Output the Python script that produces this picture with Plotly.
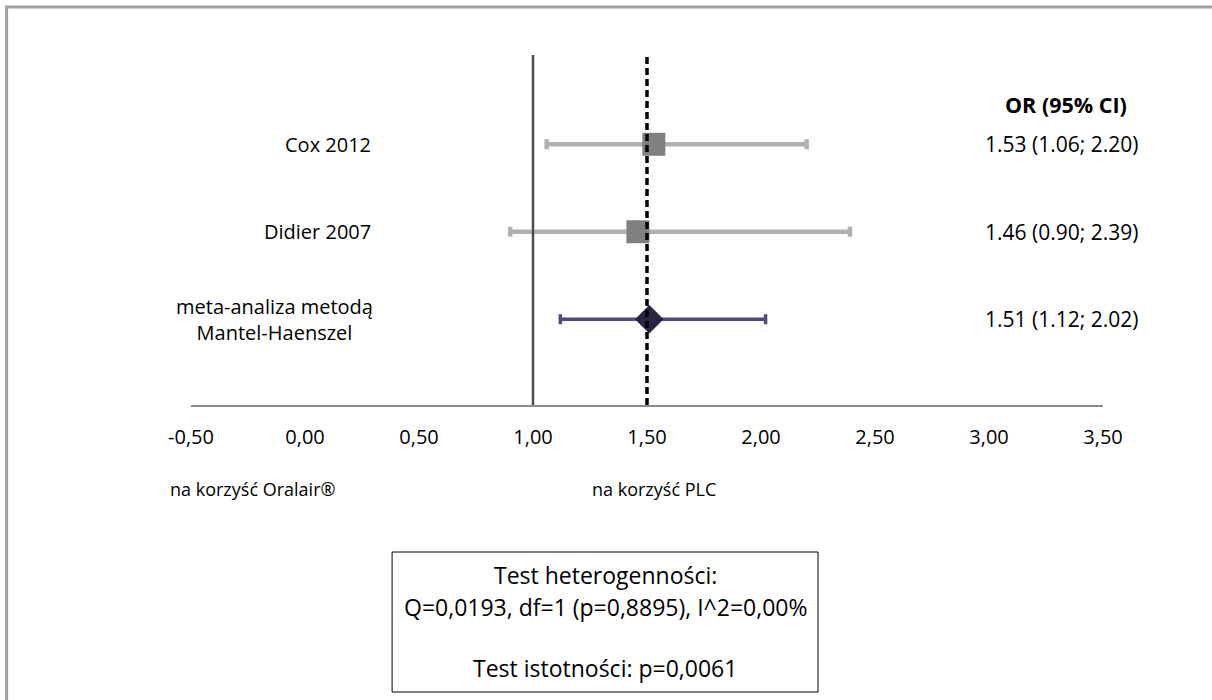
import plotly.graph_objects as go

# ---- data ----
studies = ["Cox 2012", "Didier 2007"]
study_or = [1.53, 1.46]
study_lo = [1.06, 0.90]
study_hi = [2.20, 2.39]
study_rows = [3, 2]

pooled_label = "meta-analiza metodą<br>Mantel-Haenszel"
pooled_or = [1.51]
pooled_lo = [1.12]
pooled_hi = [2.02]
pooled_rows = [1]

or_texts = ["1.53 (1.06; 2.20)", "1.46 (0.90; 2.39)", "1.51 (1.12; 2.02)"]
or_rows = [3, 2, 1]

tick_vals = [-0.5, 0.0, 0.5, 1.0, 1.5, 2.0, 2.5, 3.0, 3.5]
tick_text = ["-0,50", "0,00", "0,50", "1,00", "1,50", "2,00", "2,50", "3,00", "3,50"]

null_line = 1.0
pooled_line = 1.5

FONT = "Open Sans"
FS = 20

fig = go.Figure()

# study estimates with CI
fig.add_trace(go.Scatter(
    x=study_or, y=study_rows, mode="markers",
    marker=dict(symbol="square", size=23, color="#808080"),
    error_x=dict(type="data", symmetric=False,
                 array=[h - o for h, o in zip(study_hi, study_or)],
                 arrayminus=[o - l for o, l in zip(study_or, study_lo)],
                 color="#b0b0b0", thickness=4.5, width=5),
    showlegend=False, hoverinfo="skip"))

# pooled estimate
fig.add_trace(go.Scatter(
    x=pooled_or, y=pooled_rows, mode="markers",
    marker=dict(symbol="diamond", size=22, color="#2b2540"),
    error_x=dict(type="data", symmetric=False,
                 array=[h - o for h, o in zip(pooled_hi, pooled_or)],
                 arrayminus=[o - l for o, l in zip(pooled_or, pooled_lo)],
                 color="#54497a", thickness=3.5, width=5),
    showlegend=False, hoverinfo="skip"))

shapes = []
# null-effect line and pooled dashed line
shapes.append(dict(type="line", xref="x", yref="paper", x0=null_line, x1=null_line,
                   y0=0, y1=1, line=dict(color="#4d4d4d", width=2.5), layer="above"))
shapes.append(dict(type="line", xref="x", yref="paper", x0=pooled_line, x1=pooled_line,
                   y0=0, y1=1, line=dict(color="#000000", width=3.5, dash="7px,4px"),
                   layer="above"))
# heterogeneity box
shapes.append(dict(type="rect", xref="x", yref="paper", x0=0.382, x1=2.25,
                   y0=-0.82, y1=-0.42, line=dict(color="#000000", width=1),
                   fillcolor="rgba(0,0,0,0)"))
# outer frame
shapes.append(dict(type="rect", xref="paper", yref="paper", x0=-0.2022, x1=1.13,
                   y0=-0.88, y1=1.137, line=dict(color="#a0a0a0", width=3),
                   fillcolor="rgba(0,0,0,0)"))

annotations = []
for name, r in zip(studies, study_rows):
    annotations.append(dict(text=name, x=0.30, y=r, xref="x", yref="y",
                            xanchor="right", yanchor="middle", showarrow=False))
annotations.append(dict(text=pooled_label, x=-0.134, y=pooled_rows[0], xref="x", yref="y",
                        xanchor="center", yanchor="middle", showarrow=False, align="center"))
annotations.append(dict(text="<b>OR (95% CI)</b>", x=3.338, y=3.45, xref="x", yref="y",
                        xanchor="center", yanchor="middle", showarrow=False,
                        font=dict(size=21.5)))
for t, r in zip(or_texts, or_rows):
    annotations.append(dict(text=t, x=2.974, y=r, xref="x", yref="y",
                            xanchor="left", yanchor="middle", showarrow=False,
                            font=dict(size=21)))
annotations.append(dict(text="na korzyść Oralair®", x=-0.0252, y=-0.24,
                        xref="paper", yref="paper",
                        xanchor="left", yanchor="middle", showarrow=False,
                        font=dict(size=18)))
annotations.append(dict(text="na korzyść PLC", x=1.25, y=-0.24, xref="x", yref="paper",
                        xanchor="left", yanchor="middle", showarrow=False,
                        font=dict(size=18)))
box_lines = ["Test heterogenności:", "Q=0,0193, df=1 (p=0,8895), I^2=0,00%",
             "Test istotności: p=0,0061"]
box_y = [-0.486, -0.577, -0.751]
for t, yy in zip(box_lines, box_y):
    annotations.append(dict(text=t, x=1.316, y=yy, xref="x", yref="paper",
                            xanchor="center", yanchor="middle", showarrow=False,
                            font=dict(size=23)))

fig.update_layout(
    width=1212, height=700,
    margin=dict(l=191, r=109, t=55, b=295),
    paper_bgcolor="white", plot_bgcolor="white",
    font=dict(family=FONT, size=FS, color="#000000"),
    shapes=shapes, annotations=annotations,
    xaxis=dict(range=[-0.5, 3.5], tickvals=tick_vals, ticktext=tick_text,
               showgrid=False, zeroline=False, showline=True,
               linecolor="#8c8c8c", linewidth=1.5, ticks="",
               ticklabelstandoff=13, tickfont=dict(family=FONT, size=FS, color="#000")),
    yaxis=dict(range=[0.02, 4.02], visible=False, showgrid=False, zeroline=False),
)

fig.write_html("out.html")
